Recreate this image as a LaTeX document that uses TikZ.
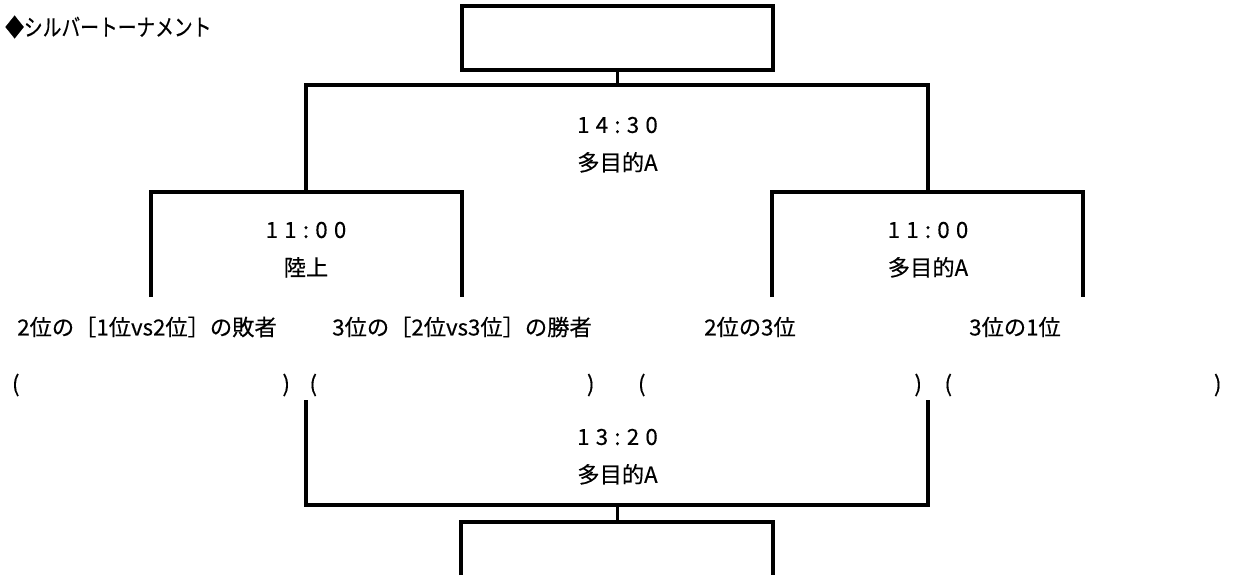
\documentclass[tikz,border=0pt]{standalone}
\usepackage{fontspec}
\setmainfont{Noto Sans CJK JP}[FakeBold=0.3]
\newfontfamily\timefont{Noto Sans CJK JP}[LetterSpace=28, FakeBold=0.3]
\newfontfamily\titlefont{Noto Sans CJK JP}[FakeStretch=0.8, FakeBold=0.3]
\usetikzlibrary{positioning}

\begin{document}
\begin{tikzpicture}[
    x=0.03cm, y=-0.03cm,
    line/.style={line width=2.6pt},
    court/.style={rectangle, draw=black, line width=2.6pt, minimum width=9.33cm, minimum height=1.92cm},
    lbl/.style={inner sep=0pt, font=\fontsize{19pt}{23pt}\selectfont},
    tlbl/.style={inner sep=0pt, font=\fontsize{19pt}{23pt}\selectfont\timefont},
    slot/.style={inner sep=0pt, font=\fontsize{19pt}{23pt}\selectfont},
    node distance=0.6cm
]
\useasboundingbox (0,0) rectangle (1234,575);

% Title
\node[lbl, anchor=west, font=\fontsize{20pt}{24pt}\selectfont\titlefont] (title) at (5,27) {◆シルバートーナメント};

% Final box
\node[court] (final) at (617.5,38) {};

% Joints
\coordinate (top) at (617.5,85);
\coordinate (gL) at (306,192);
\coordinate (gR) at (928,192);
\coordinate (s1) at (151,297);
\coordinate (s2) at (462,297);
\coordinate (s3) at (772,297);
\coordinate (s4) at (1083,297);
\coordinate (b1) at (306,400);
\coordinate (b2) at (928,400);
\coordinate (bot) at (617.5,505);
\coordinate (third) at (617.5,522);
\coordinate (c1) at (461,575);
\coordinate (c2) at (773,575);

% Match labels
\node[tlbl] (ftime) at (617.5,125) {14:30};
\node[lbl, below=0.55cm of ftime] (fplace) {多目的A};
\node[tlbl] (ltime) at (306,230) {11:00};
\node[lbl, below=0.55cm of ltime] (lplace) {陸上};
\node[tlbl] (rtime) at (928,230) {11:00};
\node[lbl, below=0.55cm of rtime] (rplace) {多目的A};
\node[tlbl] (btime) at (617.5,437) {13:20};
\node[lbl, below=0.55cm of btime] (bplace) {多目的A};

% Teams
\node[slot] (team1) at (147,327) {2位の［1位vs2位］の敗者};
\node[slot] (team2) at (462,327) {3位の［2位vs3位］の勝者};
\node[slot] (team3) at (750,327) {2位の3位};
\node[slot] (team4) at (1015,327) {3位の1位};

% Name blanks
\node[slot] (blank1) at (151,385) {\makebox[8.34cm]{(\hfill)}};
\node[slot] (blank2) at (452,385) {\makebox[8.55cm]{(\hfill)}};
\node[slot] (blank3) at (780,385) {\makebox[8.52cm]{(\hfill)}};
\node[slot] (blank4) at (1083,385) {\makebox[8.31cm]{(\hfill)}};

% Bracket lines
\draw[line] (s1) |- (gL) -| (s2);
\draw[line] (s3) |- (gR) -| (s4);
\draw[line] (gL) |- (top) -| (gR);
\draw[line] (top) -- (final.south);
\draw[line] (b1) |- (bot) -| (b2);
\draw[line] (bot) -- (third);
\draw[line] (c1) |- (third) -| (c2);

\end{tikzpicture}
\end{document}
